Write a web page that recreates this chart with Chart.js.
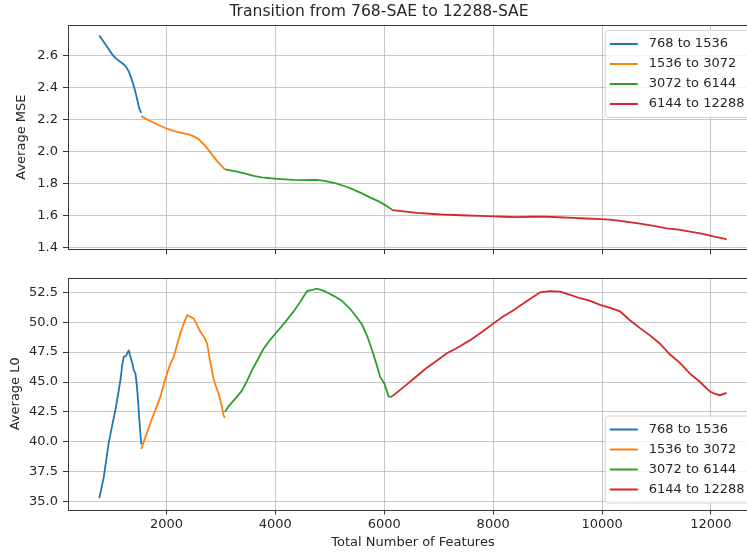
<!DOCTYPE html>
<html>
<head>
<meta charset="utf-8">
<script src="https://cdn.jsdelivr.net/npm/chart.js@4"></script>
<style>
  html, body { margin: 0; padding: 0; background: #fff; overflow: hidden; }
  #wrap { position: relative; width: 747px; height: 552px; overflow: hidden; }
  #wrap canvas { position: absolute; left: 0; }
</style>
</head>
<body>
<div id="wrap">
  <canvas id="mseChart" width="826" height="262" style="top:0"></canvas>
  <canvas id="l0Chart" width="826" height="290" style="top:262px"></canvas>
</div>
<script>
const segLabels = ['768 to 1536', '1536 to 3072', '3072 to 6144', '6144 to 12288'];
const segColors = ['#1f77b4', '#ff7f0e', '#2ca02c', '#d62728'];

const xTicks = [2000, 4000, 6000, 8000, 10000, 12000];
const mseTicks = [1.4, 1.6, 1.8, 2.0, 2.2, 2.4, 2.6];
const l0Ticks = [35.0, 37.5, 40.0, 42.5, 45.0, 47.5, 50.0, 52.5];

// Average MSE, one pair of arrays per transition
const mseX1 = [768, 850, 940, 1000, 1064, 1140, 1217, 1270, 1309, 1360, 1400, 1440, 1470, 1500, 1536];
const mseY1 = [2.727, 2.685, 2.64, 2.61, 2.585, 2.565, 2.545, 2.525, 2.50, 2.455, 2.41, 2.36, 2.315, 2.27, 2.242];
const mseX2 = [1536, 1650, 1767, 1890, 2012, 2100, 2195, 2300, 2409, 2500, 2593, 2700, 2807, 2930, 3072];
const mseY2 = [2.222, 2.20, 2.18, 2.16, 2.143, 2.133, 2.124, 2.115, 2.108, 2.095, 2.077, 2.04, 1.995, 1.94, 1.888];
const mseX3 = [3072, 3297, 3450, 3602, 3750, 3908, 4100, 4336, 4500, 4650, 4765, 4900, 5132, 5300, 5437, 5600, 5743, 5900, 6018, 6144];
const mseY3 = [1.888, 1.874, 1.862, 1.848, 1.839, 1.833, 1.828, 1.823, 1.821, 1.822, 1.823, 1.817, 1.799, 1.780, 1.762, 1.737, 1.712, 1.688, 1.665, 1.636];
const mseX4 = [6144, 6400, 6600, 6850, 7088, 7300, 7517, 7750, 8005, 8200, 8433, 8700, 8922, 9200, 9472, 9700, 9963, 10147, 10400, 10697, 10950, 11187, 11400, 11615, 11850, 12043, 12200, 12288];
const mseY4 = [1.634, 1.624, 1.616, 1.611, 1.606, 1.603, 1.600, 1.597, 1.594, 1.592, 1.590, 1.592, 1.593, 1.589, 1.585, 1.581, 1.577, 1.574, 1.563, 1.549, 1.535, 1.519, 1.511, 1.499, 1.485, 1.469, 1.458, 1.450];

// Average L0
const l0X1 = [768, 850, 939, 1000, 1064, 1110, 1156, 1190, 1217, 1260, 1290, 1309, 1340, 1371, 1400, 1431, 1450, 1473, 1500, 1536];
const l0Y1 = [35.3, 37.1, 39.9, 41.3, 42.7, 43.9, 45.2, 46.5, 47.1, 47.2, 47.5, 47.6, 47.1, 46.6, 46.0, 45.7, 45.0, 43.8, 42.0, 39.8];
const l0X2 = [1536, 1620, 1706, 1800, 1890, 1950, 2012, 2070, 2134, 2200, 2257, 2320, 2380, 2420, 2460, 2501, 2560, 2610, 2655, 2700, 2747, 2800, 2868, 2910, 2960, 3010, 3052, 3072];
const l0Y2 = [39.4, 40.5, 41.6, 42.7, 43.8, 44.8, 45.7, 46.5, 47.1, 48.2, 49.1, 49.9, 50.6, 50.5, 50.4, 50.3, 49.8, 49.3, 49.0, 48.7, 48.2, 46.8, 45.2, 44.6, 44.0, 43.1, 42.2, 42.0];
const l0X3 = [3072, 3130, 3205, 3300, 3389, 3480, 3572, 3680, 3786, 3900, 4031, 4180, 4336, 4459, 4581, 4680, 4765, 4900, 5070, 5220, 5376, 5480, 5591, 5690, 5774, 5850, 5927, 6000, 6079, 6144];
const l0Y3 = [42.5, 42.9, 43.3, 43.8, 44.3, 45.1, 46.0, 46.9, 47.8, 48.5, 49.2, 50.0, 50.9, 51.7, 52.6, 52.7, 52.8, 52.6, 52.2, 51.8, 51.1, 50.5, 49.8, 48.8, 47.7, 46.6, 45.4, 44.9, 43.8, 43.75];
const l0X4 = [6144, 6280, 6416, 6600, 6783, 6970, 7150, 7360, 7578, 7800, 8006, 8190, 8373, 8600, 8862, 9050, 9229, 9400, 9596, 9770, 9963, 10150, 10330, 10500, 10697, 10880, 11064, 11248, 11430, 11615, 11800, 11982, 12080, 12165, 12288];
const l0Y4 = [43.8, 44.3, 44.8, 45.5, 46.2, 46.8, 47.4, 47.9, 48.5, 49.2, 49.9, 50.5, 51.0, 51.7, 52.5, 52.6, 52.55, 52.3, 52.0, 51.8, 51.45, 51.2, 50.9, 50.2, 49.5, 48.9, 48.2, 47.3, 46.6, 45.7, 45.0, 44.2, 44.0, 43.9, 44.1];

Chart.defaults.font.family = "'DejaVu Sans', sans-serif";
Chart.defaults.font.size = 13;
Chart.defaults.color = '#262626';

const gridColor = 'rgba(176, 176, 176, 0.7)';

function toPoints(xs, ys) {
    return xs.map((x, i) => ({ x: x, y: ys[i] }));
}

function makeDatasets(series) {
    return series.map((s, i) => ({
        label: segLabels[i],
        data: toPoints(s[0], s[1]),
        borderColor: segColors[i],
        backgroundColor: segColors[i],
        borderWidth: 1.8,
        pointRadius: 0,
        tension: 0,
        fill: false
    }));
}

// matplotlib-like box around the axes
const axesFrame = {
    id: 'axesFrame',
    afterDatasetsDraw(chart) {
        const { ctx, chartArea: a } = chart;
        ctx.save();
        ctx.strokeStyle = '#3a3a3a';
        ctx.lineWidth = 1;
        ctx.strokeRect(Math.round(a.left) + 0.5, Math.round(a.top) + 0.5,
            Math.round(a.right - a.left), Math.round(a.bottom - a.top));
        ctx.restore();
    }
};

// legend box inside the axes
const boxLegend = {
    id: 'boxLegend',
    afterDraw(chart, args, opts) {
        const { ctx, chartArea: a } = chart;
        const sets = chart.data.datasets;
        ctx.save();
        ctx.font = "13px 'DejaVu Sans'";
        const textW = Math.max(...sets.map(d => ctx.measureText(d.label).width));
        const rowH = 20;
        const w = textW + 50.5;
        const h = sets.length * rowH + 7;
        const x = a.right - 6.5 - w;
        const y = opts.corner === 'top' ? a.top + 5.5 : a.bottom - 6.5 - h;
        ctx.beginPath();
        ctx.roundRect(x, y, w, h, 3);
        ctx.fillStyle = 'rgba(255, 255, 255, 0.8)';
        ctx.fill();
        ctx.strokeStyle = '#d4d4d4';
        ctx.lineWidth = 1;
        ctx.stroke();
        ctx.textBaseline = 'middle';
        sets.forEach((d, i) => {
            const cy = y + 13.5 + i * rowH;
            ctx.beginPath();
            ctx.moveTo(x + 4.5, cy);
            ctx.lineTo(x + 32.5, cy);
            ctx.strokeStyle = d.borderColor;
            ctx.lineWidth = 2;
            ctx.stroke();
            ctx.fillStyle = '#262626';
            ctx.fillText(d.label, x + 43.5, cy);
        });
        ctx.restore();
    }
};

function xScale(showLabels) {
    return {
        type: 'linear',
        min: 192,
        max: 12864,
        afterBuildTicks: s => { s.ticks = xTicks.map(v => ({ value: v })); },
        afterFit: s => { s.height = showLabels ? 42.5 : 5; },
        grid: { color: gridColor, tickColor: '#333', tickLength: 5 },
        border: { display: false },
        ticks: { display: showLabels, padding: 2, maxRotation: 0, autoSkip: false, callback: v => String(v) },
        title: {
            display: showLabels,
            text: 'Total Number of Features',
            font: { size: 13, lineHeight: 1.2 },
            padding: { top: 0, bottom: 1.2 }
        }
    };
}

function yScale(min, max, ticks, label, titlePad) {
    return {
        min: min,
        max: max,
        afterBuildTicks: s => { s.ticks = ticks.map(v => ({ value: v })); },
        afterFit: s => { s.width = 68; },
        grid: { color: gridColor, tickColor: '#333', tickLength: 5 },
        border: { display: false },
        ticks: { padding: 5, autoSkip: false, callback: v => v.toFixed(1) },
        title: {
            display: true,
            text: label,
            font: { size: 13, lineHeight: 1.2 },
            padding: { top: titlePad, bottom: 0 }
        }
    };
}

new Chart(document.getElementById('mseChart'), {
    type: 'line',
    data: {
        datasets: makeDatasets([[mseX1, mseY1], [mseX2, mseY2], [mseX3, mseY3], [mseX4, mseY4]])
    },
    options: {
        responsive: false,
        animation: false,
        layout: { padding: { left: 0, right: 68, top: 0, bottom: 0 } },
        scales: {
            x: xScale(false),
            y: yScale(1.389, 2.792, mseTicks, 'Average MSE', 14.2)
        },
        plugins: {
            legend: { display: false },
            tooltip: { enabled: false },
            title: {
                display: true,
                text: 'Transition from 768-SAE to 12288-SAE',
                font: { size: 15.6, weight: 'normal', lineHeight: 1.2 },
                padding: { top: 3, bottom: 3.3 },
                color: '#262626'
            },
            boxLegend: { corner: 'top' }
        }
    },
    plugins: [axesFrame, boxLegend]
});

new Chart(document.getElementById('l0Chart'), {
    type: 'line',
    data: {
        datasets: makeDatasets([[l0X1, l0Y1], [l0X2, l0Y2], [l0X3, l0Y3], [l0X4, l0Y4]])
    },
    options: {
        responsive: false,
        animation: false,
        layout: { padding: { left: 0, right: 68, top: 16, bottom: 0 } },
        scales: {
            x: xScale(true),
            y: yScale(34.35, 53.69, l0Ticks, 'Average L0', 7.7)
        },
        plugins: {
            legend: { display: false },
            tooltip: { enabled: false },
            boxLegend: { corner: 'bottom' }
        }
    },
    plugins: [axesFrame, boxLegend]
});
</script>
</body>
</html>
